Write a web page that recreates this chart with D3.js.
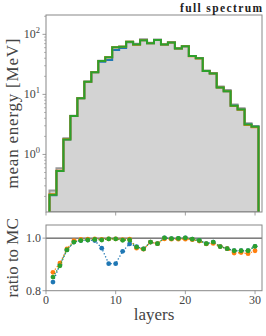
<!DOCTYPE html>
<html>
<head>
<meta charset="utf-8">
<script src="https://cdn.jsdelivr.net/npm/d3@7"></script>
<style>
  body { margin: 0; background: #fff; }
  text { font-family: "Liberation Serif", "DejaVu Serif", serif; }
</style>
</head>
<body>
<svg id="chart" width="266" height="336"></svg>
<script>
const layers = d3.range(1, 31)

// mean energy of the MC reference per layer [MeV]
const mcEnergy = [0.25, 0.59, 1.86, 4.42, 8.7, 16.3, 23.5, 36.2, 41.6, 61.0,
  62.5, 75.5, 70.0, 83.0, 72.5, 82.0, 68.0, 73.6, 58.4, 63.5,
  43.6, 40.2, 25.0, 22.7, 13.5, 11.8, 6.8, 5.9, 3.3, 2.98]

// ratio of each model to MC per layer
const ratioBlue = [0.833, 0.900, 0.955, 0.985, 0.991, 0.993, 0.991, 0.962, 0.903, 0.903,
  0.950, 0.978, 0.968, 0.959, 0.985, 0.979, 1.001, 0.998, 0.999, 1.001,
  0.996, 0.991, 0.979, 0.985, 0.968, 0.960, 0.952, 0.952, 0.952, 0.969]
const ratioOrange = [0.870, 0.905, 0.959, 0.990, 0.995, 0.996, 0.997, 0.995, 0.997, 0.997,
  0.994, 0.996, 0.962, 0.958, 0.985, 0.979, 0.997, 0.996, 0.996, 0.996,
  0.994, 0.989, 0.978, 0.980, 0.968, 0.960, 0.943, 0.945, 0.941, 0.952]
const ratioGreen = [0.852, 0.895, 0.955, 0.985, 0.991, 0.993, 0.995, 0.993, 0.997, 0.997,
  0.992, 0.993, 0.966, 0.959, 0.985, 0.979, 1.001, 0.998, 0.999, 1.001,
  0.996, 0.991, 0.979, 0.985, 0.968, 0.960, 0.952, 0.952, 0.952, 0.969]

const models = [
  { name: "blue", color: "#1f77b4", ratio: ratioBlue },
  { name: "orange", color: "#ff7f0e", ratio: ratioOrange },
  { name: "green", color: "#2ca02c", ratio: ratioGreen },
]

const logTicks = [1, 10, 100]
const ratioTicks = [0.8, 1.0]
const xTicks = [0, 10, 20, 30]

const svg = d3.select("#chart")
const left = 46, right = 262
const top1 = 15, bottom1 = 212
const top2 = 225, bottom2 = 290.7
const frameColor = "#888"
const textColor = "#444"

const x = d3.scaleLinear([0, 31], [left, right])
const y = d3.scaleLog([0.11, 210], [bottom1, top1])
const yr = d3.scaleLinear([0.8, 1.05], [bottom2, top2])

// step outline like a matplotlib "step" histogram
function stepPoints(values) {
  const pts = [[0.5, y.domain()[0]]]
  values.forEach((v, i) => {
    pts.push([layers[i] - 0.5, v])
    pts.push([layers[i] + 0.5, v])
  })
  pts.push([30.5, y.domain()[0]])
  return pts
}
const stepLine = d3.line().x((d) => x(d[0])).y((d) => y(d[1]))

svg.append("defs").append("clipPath").attr("id", "clipTop")
  .append("rect").attr("x", left).attr("y", top1).attr("width", right - left).attr("height", bottom1 - top1)

const gTop = svg.append("g").attr("clip-path", "url(#clipTop)")

gTop.append("path")
  .attr("d", stepLine(stepPoints(mcEnergy)) + "Z")
  .attr("fill", "#d3d3d3")
  .attr("stroke", "#999")
  .attr("stroke-width", 2)

models.forEach((m) => {
  const vals = mcEnergy.map((v, i) => v * m.ratio[i])
  gTop.append("path")
    .attr("d", stepLine(stepPoints(vals)))
    .attr("fill", "none")
    .attr("stroke", m.color)
    .attr("stroke-width", 2)
})

// top frame
svg.append("rect")
  .attr("x", left).attr("y", top1).attr("width", right - left).attr("height", bottom1 - top1)
  .attr("fill", "none").attr("stroke", frameColor).attr("stroke-width", 1)

// log axis ticks
const minor = []
for (let e = -1; e <= 2; e++) {
  for (let k = 2; k <= 9; k++) {
    const v = k * Math.pow(10, e)
    if (v > y.domain()[0] && v < y.domain()[1]) minor.push(v)
  }
}
svg.append("g").selectAll("line.minor").data(minor).join("line")
  .attr("x1", left).attr("x2", left - 2)
  .attr("y1", (d) => y(d)).attr("y2", (d) => y(d))
  .attr("stroke", frameColor).attr("stroke-width", 0.6)

svg.append("g").selectAll("line.major").data(logTicks).join("line")
  .attr("x1", left).attr("x2", left - 3.5)
  .attr("y1", (d) => y(d)).attr("y2", (d) => y(d))
  .attr("stroke", frameColor).attr("stroke-width", 0.8)

const logLab = svg.append("g").selectAll("text").data(logTicks).join("text")
  .attr("x", left - 6).attr("y", (d) => y(d) + 4)
  .attr("text-anchor", "end")
  .attr("fill", textColor)
  .attr("font-size", 12)
logLab.append("tspan").text("10")
logLab.append("tspan").text((d) => Math.round(Math.log10(d)))
  .attr("font-size", 8.5).attr("dy", -5)

// top panel x ticks, no labels
svg.append("g").selectAll("line").data(xTicks).join("line")
  .attr("x1", (d) => x(d)).attr("x2", (d) => x(d))
  .attr("y1", bottom1).attr("y2", bottom1 + 3.5)
  .attr("stroke", frameColor).attr("stroke-width", 0.8)

// ratio panel
svg.append("line")
  .attr("x1", left).attr("x2", right)
  .attr("y1", yr(1)).attr("y2", yr(1))
  .attr("stroke", "#333").attr("stroke-width", 1)

const gBot = svg.append("g")
models.forEach((m) => {
  const pts = layers.map((l, i) => [l, m.ratio[i]])
  gBot.append("path")
    .attr("d", d3.line().x((d) => x(d[0])).y((d) => yr(d[1]))(pts))
    .attr("fill", "none")
    .attr("stroke", m.color)
    .attr("stroke-width", 1.3)
    .attr("stroke-dasharray", "1.3,2")
  gBot.selectAll("circle." + m.name).data(pts).join("circle")
    .attr("cx", (d) => x(d[0])).attr("cy", (d) => yr(d[1]))
    .attr("r", 2.4)
    .attr("fill", m.color)
})

svg.append("rect")
  .attr("x", left).attr("y", top2).attr("width", right - left).attr("height", bottom2 - top2)
  .attr("fill", "none").attr("stroke", frameColor).attr("stroke-width", 1)

svg.append("g").selectAll("line").data(ratioTicks).join("line")
  .attr("x1", left).attr("x2", left - 3.5)
  .attr("y1", (d) => yr(d)).attr("y2", (d) => yr(d))
  .attr("stroke", frameColor).attr("stroke-width", 0.8)
svg.append("g").selectAll("text").data(ratioTicks).join("text")
  .attr("x", left - 5).attr("y", (d) => yr(d) + 4)
  .attr("text-anchor", "end")
  .attr("fill", textColor)
  .attr("font-size", 12)
  .text((d) => d.toFixed(1))

svg.append("g").selectAll("line").data(xTicks).join("line")
  .attr("x1", (d) => x(d)).attr("x2", (d) => x(d))
  .attr("y1", bottom2).attr("y2", bottom2 + 3.5)
  .attr("stroke", frameColor).attr("stroke-width", 0.8)
svg.append("g").selectAll("text").data(xTicks).join("text")
  .attr("x", (d) => x(d)).attr("y", bottom2 + 13)
  .attr("text-anchor", "middle")
  .attr("fill", textColor)
  .attr("font-size", 12)
  .text((d) => d)

// labels
svg.append("text")
  .attr("transform", `translate(18, ${(top1 + bottom1) / 2}) rotate(-90)`)
  .attr("text-anchor", "middle")
  .attr("fill", textColor)
  .attr("font-size", 17)
  .attr("textLength", 150)
  .text("mean energy [MeV]")

svg.append("text")
  .attr("transform", `translate(18, ${(top2 + bottom2) / 2}) rotate(-90)`)
  .attr("text-anchor", "middle")
  .attr("fill", textColor)
  .attr("font-size", 17)
  .text("ratio to MC")

svg.append("text")
  .attr("x", (left + right) / 2).attr("y", 320)
  .attr("text-anchor", "middle")
  .attr("fill", textColor)
  .attr("font-size", 17)
  .text("layers")

svg.append("text")
  .attr("x", right).attr("y", 11.5)
  .attr("text-anchor", "end")
  .attr("fill", "#222")
  .attr("font-size", 11.5)
  .attr("font-weight", "bold")
  .attr("textLength", 82)
  .text("full spectrum")
</script>
</body>
</html>
